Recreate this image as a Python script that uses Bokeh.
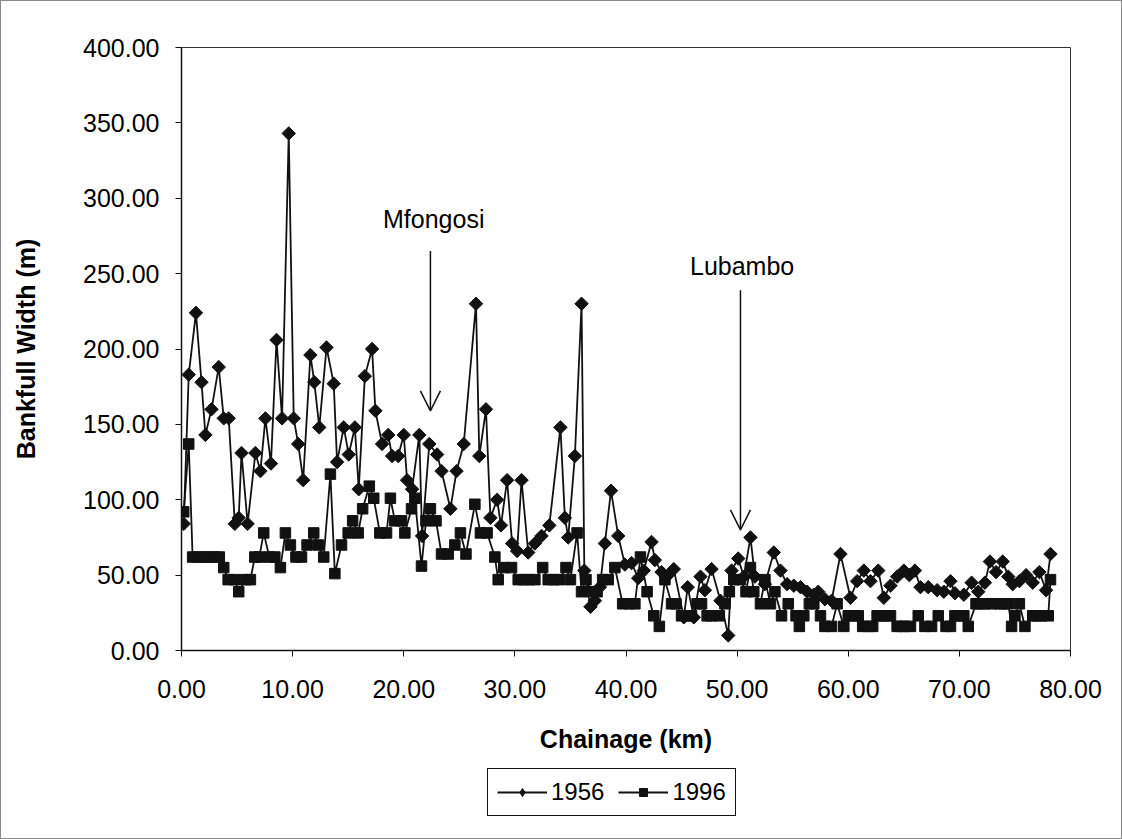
from bokeh.plotting import figure
from bokeh.layouts import column
from bokeh.models import (Range1d, FixedTicker, NumeralTickFormatter, Legend, LegendItem,
                          Arrow, OpenHead, Label)
from bokeh.embed import file_html
from bokeh.resources import INLINE

# ---- data ----
chainage_1956 = [0.2, 0.65, 1.3, 1.8, 2.15, 2.7, 3.35, 3.8, 4.25, 4.8, 5.15, 5.4, 5.95, 6.65, 7.1, 7.55,
                 8.05, 8.55, 9.05, 9.65, 10.1, 10.5, 10.95, 11.6, 11.95, 12.4, 13.05, 13.7, 14.0, 14.6,
                 15.05, 15.6, 15.95, 16.5, 17.15, 17.45, 18.05, 18.6, 18.95, 19.5, 20.0, 20.3, 20.75,
                 21.4, 21.65, 22.3, 23.0, 23.4, 24.2, 24.75, 25.4, 26.5, 26.8, 27.4, 27.8, 28.4, 28.75,
                 29.3, 29.75, 30.2, 30.6, 31.2, 31.8, 32.4, 33.1, 34.1, 34.5, 34.8, 35.4, 36.0, 36.25,
                 36.8, 37.2, 37.65, 38.1, 38.65, 39.3, 39.9, 40.5, 41.1, 41.6, 42.3, 42.6, 43.2, 43.8,
                 44.3, 45.2, 45.55, 46.1, 46.7, 47.1, 47.7, 48.5, 49.2, 49.5, 50.1, 50.6, 51.2, 51.6,
                 52.5, 53.3, 53.9, 54.5, 55.1, 55.7, 56.3, 56.9, 57.3, 57.9, 58.5, 59.3, 60.2, 60.8,
                 61.4, 62.0, 62.7, 63.2, 63.8, 64.4, 65.0, 65.5, 66.0, 66.5, 67.2, 68.0, 68.6, 69.2,
                 69.6, 70.4, 71.1, 71.7, 72.3, 72.75, 73.3, 73.9, 74.4, 74.8, 75.4, 76.0, 76.6, 77.2,
                 77.8, 78.2]
width_1956 = [84, 183, 224, 178, 143, 160, 188, 154, 154, 84, 88, 131, 84, 131, 119, 154, 124, 206,
              154, 343, 154, 137, 113, 196, 178, 148, 201, 177, 125, 148, 130, 148, 107, 182, 200,
              159, 137, 143, 129, 129, 143, 113, 107, 143, 76, 137, 130, 119, 94, 119, 137, 230, 129,
              160, 88, 100, 83, 113, 71, 66, 113, 65, 71, 76, 83, 148, 88, 75, 129, 230, 53, 29, 33,
              42, 71, 106, 76, 57, 58, 48, 53, 72, 60, 52, 50, 54, 22, 42, 22, 49, 40, 54, 33, 10,
              53, 61, 49, 75, 49, 44, 65, 53, 44, 43, 42, 39, 37, 39, 34, 33, 64, 35, 46, 53, 46, 53,
              35, 43, 49, 53, 50, 53, 42, 42, 40, 39, 46, 38, 37, 45, 39, 45, 59, 52, 59, 49, 44, 46,
              50, 45, 52, 40, 64]

chainage_1996 = [0.2, 0.65, 1.0, 1.5, 2.0, 2.5, 3.0, 3.4, 3.8, 4.2, 4.8, 5.15, 5.75, 6.2, 6.6, 7.0,
                 7.4, 7.9, 8.4, 8.9, 9.35, 9.8, 10.3, 10.8, 11.3, 11.9, 12.3, 12.8, 13.4, 13.8, 14.4,
                 15.0, 15.4, 15.9, 16.3, 16.9, 17.3, 17.85, 18.45, 18.8, 19.2, 19.8, 20.1, 20.7, 21.0,
                 21.6, 22.0, 22.4, 22.9, 23.4, 24.0, 24.6, 25.1, 25.6, 26.4, 26.9, 27.5, 28.2, 28.5,
                 29.0, 29.7, 30.3, 30.8, 31.3, 31.8, 32.5, 33.0, 33.5, 34.0, 34.6, 35.0, 35.6, 36.0,
                 36.4, 36.9, 37.4, 37.9, 38.4, 39.0, 39.7, 40.3, 40.8, 41.3, 41.9, 42.5, 43.0, 43.5,
                 44.1, 44.5, 45.0, 45.5, 45.9, 46.4, 46.8, 47.3, 47.7, 48.4, 48.9, 49.3, 49.7, 50.3,
                 50.8, 51.2, 51.5, 52.1, 52.5, 53.0, 53.4, 54.0, 54.6, 55.3, 55.6, 56.0, 56.5, 56.9,
                 57.5, 57.9, 58.5, 59.0, 59.6, 60.0, 60.5, 60.9, 61.3, 61.8, 62.2, 62.6, 63.0, 63.4,
                 63.8, 64.4, 64.8, 65.1, 65.6, 66.3, 66.9, 67.5, 68.1, 68.8, 69.2, 69.6, 70.0, 70.4,
                 70.8, 71.5, 71.9, 72.3, 72.9, 73.6, 74.0, 74.4, 74.7, 75.0, 75.4, 75.9, 76.6, 77.0,
                 77.4, 78.0, 78.2]
width_1996 = [92, 137, 62, 62, 62, 62, 62, 62, 55, 47,
              47, 39, 47, 47, 62, 62, 78, 62, 62, 55,
              78, 70, 62, 62, 70, 78, 70, 62, 117, 51,
              70, 78, 86, 78, 94, 109, 101, 78, 78, 101,
              86, 86, 78, 94, 101, 56, 86, 94, 86, 64,
              64, 70, 78, 64, 97, 78, 78, 62, 47, 55,
              55, 47, 47, 47, 47, 55, 47, 47, 47, 55,
              47, 78, 39, 47, 39, 39, 47, 47, 55, 31,
              31, 31, 62, 39, 23, 16, 47, 31, 31, 23,
              23, 23, 31, 31, 23, 23, 23, 31, 39, 47,
              47, 39, 55, 39, 31, 47, 31, 39, 23, 31,
              23, 16, 23, 31, 31, 23, 16, 16, 31, 16,
              23, 23, 23, 16, 16, 16, 23, 23, 23, 23,
              16, 16, 16, 16, 23, 16, 16, 23, 16, 16,
              23, 23, 23, 16, 31, 31, 31, 31, 31, 31,
              31, 16, 23, 31, 16, 23, 23, 23, 23, 47]

x_ticks = [0, 10, 20, 30, 40, 50, 60, 70, 80]
y_ticks = [0, 50, 100, 150, 200, 250, 300, 350, 400]
series_labels = ["1956", "1996"]
annotations = [("Mfongosi", 22.7, 286, 22.4, 265, 159), ("Lubambo", 50.45, 255, 50.3, 239, 80)]

FONT = "Liberation Sans"
INK = "#111111"
STYLE_1956 = dict(marker="square", angle=0.785398, size=9.5, fill_color=INK, line_color=INK)
STYLE_1956_KEY = dict(marker="diamond", size=13, fill_color=INK, line_color=INK)
STYLE_1996 = dict(marker="square", size=10.5, fill_color=INK, line_color=INK)

p = figure(frame_width=889, frame_height=603,
           min_border_left=180, min_border_right=51, min_border_top=46, min_border_bottom=112,
           x_range=Range1d(0, 80), y_range=Range1d(0, 400),
           output_backend="svg", toolbar_location=None)
p.background_fill_color = "white"
p.border_fill_color = "white"
p.grid.visible = False
p.outline_line_color = "#333333"
p.outline_line_width = 1

for ax in (p.xaxis[0], p.yaxis[0]):
    ax.formatter = NumeralTickFormatter(format="0.00")
    ax.axis_line_color = INK
    ax.axis_line_width = 1.5
    ax.major_tick_line_color = INK
    ax.major_tick_in = 0
    ax.major_tick_out = 6
    ax.minor_tick_line_color = None
    ax.major_label_text_font = FONT
    ax.major_label_text_font_size = "25px"
    ax.major_label_text_color = "#000000"
    ax.axis_label_text_font = FONT
    ax.axis_label_text_font_size = "25px"
    ax.axis_label_text_font_style = "bold"
    ax.axis_label_text_color = "#000000"

p.xaxis.ticker = FixedTicker(ticks=x_ticks)
p.yaxis.ticker = FixedTicker(ticks=y_ticks)
p.xaxis.axis_label = "Chainage (km)"
p.yaxis.axis_label = "Bankfull Width (m)"
p.xaxis.major_label_standoff = 23
p.yaxis.major_label_standoff = 16
p.xaxis.axis_label_standoff = 24
p.yaxis.axis_label_standoff = 40

p.line(chainage_1956, width_1956, line_color=INK, line_width=1.8)
p.scatter(chainage_1956, width_1956, **STYLE_1956)
p.line(chainage_1996, width_1996, line_color=INK, line_width=1.8)
p.scatter(chainage_1996, width_1996, **STYLE_1996)

for text, tx, ty, ax_x, y0, y1 in annotations:
    p.add_layout(Label(x=tx, y=ty, text=text, text_align="center", text_baseline="middle",
                       text_font=FONT, text_font_size="25px", text_color="#000000"))
    p.add_layout(Arrow(x_start=ax_x, y_start=y0, x_end=ax_x, y_end=y1, line_color=INK,
                       line_width=1.5, end=OpenHead(size=20, line_color=INK, line_width=1.5)))

# ---- legend strip underneath: same series, drawn outside its (empty) view ----
q = figure(width=1120, height=76, x_axis_type=None, y_axis_type=None,
           x_range=Range1d(0, 80), y_range=Range1d(1000, 1001),
           min_border=0, output_backend="svg", toolbar_location=None)
q.grid.visible = False
q.outline_line_color = None
q.background_fill_color = "white"
q.border_fill_color = "white"
ql1 = q.line(chainage_1956, width_1956, line_color=INK, line_width=1.8)
qm1 = q.scatter(chainage_1956, width_1956, **STYLE_1956_KEY)
ql2 = q.line(chainage_1996, width_1996, line_color=INK, line_width=1.8)
qm2 = q.scatter(chainage_1996, width_1996, marker="square", size=9, fill_color=INK, line_color=INK)
legend = Legend(items=[LegendItem(label=series_labels[0], renderers=[ql1, qm1]),
                       LegendItem(label=series_labels[1], renderers=[ql2, qm2])],
                orientation="horizontal", location=(306, 22),
                label_text_font=FONT, label_text_font_size="24px", label_text_color="#000000",
                glyph_width=50, glyph_height=20, label_standoff=4, spacing=14,
                padding=9, margin=0, border_line_color=INK, border_line_width=1,
                border_line_alpha=1,
                background_fill_color="white", background_fill_alpha=1)
q.add_layout(legend)

layout = column(p, q, spacing=0)
layout.styles = {"border": "1px solid #8a8a8a"}

open("out.html", "w").write(file_html(layout, INLINE))
